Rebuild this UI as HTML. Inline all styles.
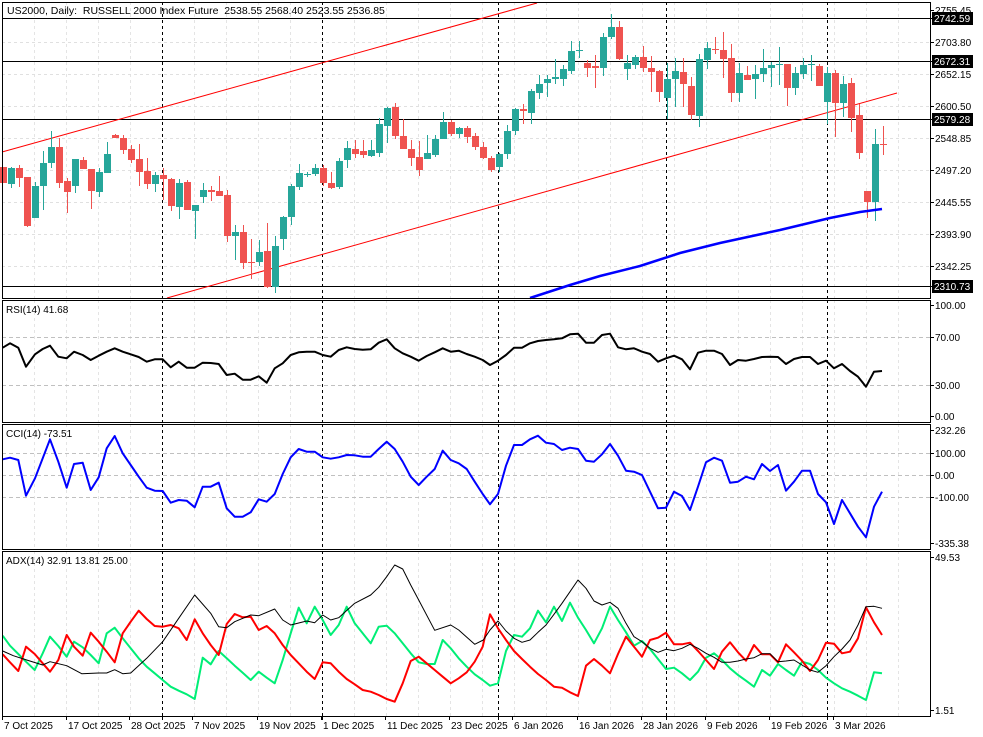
<!DOCTYPE html>
<html><head><meta charset="utf-8"><style>
html,body{margin:0;padding:0;background:#fff;}
svg{display:block;font-family:"Liberation Sans",sans-serif;}
</style></head><body>
<svg id="s" width="983" height="737" viewBox="0 0 983 737" xmlns="http://www.w3.org/2000/svg">
<rect width="983" height="737" fill="#fff"/>
<g id="g"></g>
<text x="7" y="14" font-size="10.5" xml:space="preserve">US2000, Daily:  RUSSELL 2000 Index Future  2538.55 2568.40 2523.55 2536.85</text>
<text x="6" y="313" font-size="10">RSI(14) 41.68</text>
<text x="6" y="437" font-size="10">CCI(14) -73.51</text>
<text x="6" y="564" font-size="10">ADX(14) 32.91 13.81 25.00</text>
</svg>
<script>
var g=document.getElementById('g');var NS='http://www.w3.org/2000/svg';
function el(t,a,txt){var e=document.createElementNS(NS,t);for(var k in a)e.setAttribute(k,a[k]);if(txt!==undefined)e.textContent=txt;g.appendChild(e);return e;}
function line(x1,y1,x2,y2,c,w,d){var a={x1:x1,y1:y1,x2:x2,y2:y2,stroke:c,'stroke-width':w||1};if(d)a['stroke-dasharray']=d;el('line',a);}
var R=930;
var panels=[[2,298],[300,422],[424,549],[551,716]];
for(var x=34;x<R;x+=32){panels.forEach(function(p){line(x+.5,p[0],x+.5,p[1],'#e4e4e4',1,'3,3');});}
[42,74,106,138,170,202,234,266].forEach(function(y){line(2,y+.5,R,y+.5,'#e0e0e0',1,'3,3');});
[337,385].forEach(function(y){line(2,y+.5,R,y+.5,'#c0c0c0',1,'4,3');});
[453,475,497].forEach(function(y){line(2,y+.5,R,y+.5,'#c0c0c0',1,'4,3');});
[162,322,498,666,827].forEach(function(x){panels.forEach(function(p){line(x+.5,p[0],x+.5,p[1],'#000',1,'3,3');});line(x+.5,716,x+.5,720,'#000',1);});
[18,61,119,286].forEach(function(y){line(2,y+.5,R,y+.5,'#000',1);});
line(2,152,537,3,'#f00',1);line(167,298,897,93,'#f00',1);
var C=[[167,183,167,183],[184,168,167,188],[168,178,165,187],[177,226,177,227],[218,186,182,218],[186,163,151,210],[163,147,131,168],[147,183,138,188],[181,192,178,213],[186,159,159,193],[160,169,157,169],[169,191,169,209],[192,172,168,197],[173,154,142,173],[135,138,134,138],[138,150,135,154],[149,160,145,163],[159,172,144,186],[171,184,158,189],[184,175,172,192],[175,179,168,200],[179,206,178,211],[207,183,179,219],[182,210,180,210],[211,205,205,239],[197,190,183,203],[190,192,186,201],[191,196,176,196],[195,236,190,242],[236,232,225,260],[232,263,225,269],[262,263,239,279],[262,252,240,266],[251,287,223,288],[287,246,236,293],[239,217,216,250],[217,186,184,225],[187,173,164,190],[174,174,172,177],[174,168,164,176],[168,183,165,186],[183,188,172,189],[187,161,158,189],[160,148,141,168],[149,154,140,158],[151,155,140,158],[156,150,140,157],[153,124,118,157],[126,108,107,143],[107,136,103,139],[136,149,119,149],[149,158,140,166],[157,170,141,176],[159,153,135,159],[155,139,135,157],[139,122,112,139],[122,134,120,136],[134,128,127,138],[128,137,126,143],[136,147,133,150],
[147,158,142,159],[158,170,156,172],[167,154,153,172],[154,131,125,159],[131,109,108,135],[109,111,104,124],[113,91,89,124],[93,84,75,99],[83,79,75,97],[79,77,59,84],[79,69,65,86],[71,51,41,74],[51,50,41,58],[63,68,60,77],[66,68,55,88],[68,37,33,76],[37,27,14,39],[27,59,21,60],[69,63,55,80],[65,57,55,69],[57,68,46,72],[68,72,56,92],[71,92,70,102],[98,79,63,119],[79,71,58,107],[72,84,58,107],[86,115,77,120],[116,59,54,127],[60,48,42,69],[49,50,37,54],[50,59,32,78],[58,93,44,102],[93,73,63,102],[75,80,66,80],[79,74,65,99],[74,68,49,82],[68,65,62,87],[65,64,47,85],[64,88,64,106],[88,73,67,95],[74,65,58,79],[64,64,55,81],[66,86,64,86],[102,73,67,124],[73,103,70,137],[103,84,76,117],[83,118,78,132],[115,153,104,159],[191,202,191,218],[202,144,129,221],[144,145,126,155]];
C.forEach(function(c,i){var x=Math.round(2.7+8*i);var col=(c[1]<c[0])?'#26a69a':(c[1]>c[0]?'#ef5350':(i==110||i==89||i==31?'#ef5350':'#26a69a'));
line(x+.5,c[2],x+.5,c[3],col,1);var t=Math.min(c[0],c[1]),h=Math.max(1,Math.abs(c[0]-c[1]));el('rect',{x:x-3,y:t,width:7,height:h,fill:col});});
el('polyline',{points:'530,298 570,285 600,276 640,266 680,253 720,243 780,230 830,218 860,212 882,209',fill:'none',stroke:'#00f','stroke-width':2.5});
function poly(arr,ox,oy,col,w){var p=[];for(var i=0;i<arr.length;i+=2)p.push((arr[i]/3+ox).toFixed(1)+','+(arr[i+1]/3+oy).toFixed(1));el('polyline',{points:p.join(' '),fill:'none',stroke:col,'stroke-width':w,'stroke-linejoin':'round'});}
var r1=[8,158,30,145,55,158,78,215,105,178,128,162,150,152,175,185,200,190,222,170,248,180,272,195,296,182,320,170,344,160,368,170,392,178,416,186,440,200,464,193,488,193,512,217,536,200,560,218,584,218,608,203,632,204,656,207,680,240,704,236,728,254,752,254,776,244,800,263,824,220,848,205,872,180,896,172,920,170,944,170,968,180,992,185,1016,165,1040,157,1064,162,1088,164,1112,163,1136,143,1160,133,1184,160,1208,175,1232,185,1256,197,1280,183,1304,172,1328,160,1352,170,1376,167,1400,177,1424,185,1448,195,1470,210];
var r2=[1470,210,1494,197,1518,180,1542,158,1566,158,1590,145,1614,138,1638,135,1662,133,1686,130,1710,118,1734,116,1758,143,1782,143,1806,120,1830,116,1854,157,1878,163,1902,160,1926,170,1950,177,1974,200,1998,190,2022,182,2046,193,2070,223,2094,173,2118,167,2142,167,2166,177,2190,210,2214,195,2238,197,2262,192,2286,186,2310,185,2334,186,2358,207,2382,192,2406,186,2430,186,2454,207,2478,197,2502,220,2526,207,2550,228,2574,245,2598,275,2622,230,2646,228];
poly(r1.concat(r2.slice(2)),0,295,'#000',2);
var c1=[8,493,30,488,55,495,78,602,105,550,128,490,150,433,175,500,200,578,222,507,248,503,272,585,296,547,320,460,344,423,368,475,392,510,416,545,440,578,464,587,488,588,512,623,536,615,560,617,584,637,608,575,632,575,656,563,680,640,704,665,728,665,752,652,776,613,800,620,824,597,848,537,872,487,896,462,920,470,944,470,968,487,992,491,1016,487,1040,480,1064,481,1088,485,1112,485,1136,462,1160,440,1184,462,1208,500,1232,545,1256,570,1280,545,1304,522,1328,467,1352,495,1376,505,1400,522,1424,560,1448,597,1470,628];
var c2=[24,597,48,512,72,450,96,450,120,433,144,422,168,443,192,447,216,465,240,458,264,462,288,497,312,500,336,478,360,447,384,482,408,527,432,530,456,540,480,590,504,640,528,638,552,590,576,603,600,645,624,575,648,502,672,488,696,497,720,563,744,560,768,545,792,553,816,507,840,528,864,510,888,587,912,560,936,527,960,527,984,597,1008,622,1032,687,1056,615,1080,655,1104,695,1128,727,1152,635,1176,590];
function sh(a){return a.map(function(v,i){return i%2==0?v+1470:v;});}
poly(c1.concat(sh(c2)),0,295,'#00f',2);
var b1=[8,318,40,332,80,345,128,360,150,350,200,362,245,386,296,384,320,384,344,374,368,386,392,384,440,340,488,290,536,220,584,150,632,205,656,245,680,248,704,230,752,210,776,212,824,192,848,225,872,240,920,228,944,233,968,210,992,225,1016,218,1064,175,1112,150,1136,127,1160,95,1184,60,1208,72,1232,120,1256,165,1304,256,1352,240,1376,255,1424,298,1450,285,1470,255];
var b2=[24,228,48,258,72,280,96,292,120,285,144,262,168,240,192,208,216,175,240,140,264,105,288,130,312,168,336,180,360,172,384,190,408,235,432,275,456,290,480,310,504,322,528,313,552,317,576,310,600,298,624,310,648,325,672,337,696,352,720,352,744,348,768,342,792,338,816,326,840,326,864,350,888,348,912,345,936,360,960,375,984,382,1008,362,1032,335,1056,312,1080,285,1104,240,1128,185,1152,184,1176,190];
var gr1=[8,272,30,302,55,327,78,350,104,375,128,325,150,275,175,303,200,335,222,290,248,307,272,330,296,355,320,265,344,248,368,280,392,310,416,340,440,365,464,385,488,405,512,425,536,437,560,448,584,462,608,338,632,358,656,318,680,340,704,362,728,383,752,405,776,380,800,398,824,415,848,345,872,265,896,188,920,235,944,185,968,225,992,270,1016,240,1040,185,1064,235,1088,265,1112,295,1136,245,1160,242,1184,265,1208,295,1232,325,1256,352,1280,357,1304,357,1328,285,1352,310,1376,340,1400,365,1424,388,1448,405,1470,422];
var gr2=[24,415,48,318,72,270,96,275,120,250,144,197,168,232,192,185,216,228,240,173,264,218,288,255,312,295,336,250,360,185,384,225,408,262,432,302,456,288,480,312,504,342,528,372,552,368,576,385,600,405,624,380,648,338,672,325,696,345,720,370,744,390,768,407,792,425,816,375,840,392,864,357,888,375,912,392,936,350,960,357,984,375,1008,398,1032,415,1056,430,1080,440,1104,452,1128,465,1152,382,1176,385];
var rd1=[8,328,30,352,55,378,78,305,104,327,128,355,150,380,175,345,200,270,222,305,248,332,272,263,296,290,320,320,344,352,368,265,392,230,416,197,440,222,464,243,488,245,512,240,536,250,560,285,584,223,608,265,632,300,656,330,680,237,704,207,728,217,752,215,776,255,800,243,824,265,848,300,872,330,896,355,920,380,944,402,968,352,992,355,1016,380,1040,402,1064,418,1088,435,1112,440,1136,450,1160,462,1184,470,1208,415,1232,348,1256,335,1280,355,1304,375,1328,395,1352,415,1376,400,1400,382,1424,350,1448,305,1470,208];
var rd2=[24,250,48,285,72,318,96,342,120,365,144,387,168,405,192,425,216,428,240,442,264,453,288,362,312,342,336,362,360,385,384,327,408,275,432,305,456,335,480,285,504,278,528,263,552,298,576,298,600,293,624,318,648,345,672,372,696,320,720,292,744,322,768,347,792,300,816,328,840,328,864,352,888,298,912,322,936,347,960,378,984,345,1008,293,1032,296,1056,325,1080,320,1104,280,1128,187,1152,232,1176,270];
poly(gr1.concat(sh(gr2)),0,545,'#00ee76',2);
poly(rd1.concat(sh(rd2)),0,545,'#f00',2);
poly(b1.concat(sh(b2)),0,545,'#000',1);
panels.forEach(function(p){el('rect',{x:2.5,y:p[0]+.5,width:R-2,height:p[1]-p[0],fill:'none',stroke:'#000','stroke-width':1});});
function lab(y,t,box){line(R,y+.5,R+4,y+.5,'#000',1);if(box){el('rect',{x:932,y:y-6,width:41,height:13,fill:'#000'});el('text',{x:934,y:y+4,'font-size':10,fill:'#fff'},t);}else el('text',{x:935,y:y+4,'font-size':10,fill:'#000'},t);}
lab(10,'2755.45');lab(42,'2703.80');lab(74,'2652.15');lab(106,'2600.50');lab(138,'2548.85');lab(170,'2497.20');lab(202,'2445.55');lab(234,'2393.90');lab(266,'2342.25');
lab(18,'2742.59',1);lab(61,'2672.31',1);lab(119,'2579.28',1);lab(286,'2310.73',1);
lab(305,'100.00');lab(337,'70.00');lab(385,'30.00');lab(416,'0.00');
lab(430,'232.26');lab(453,'100.00');lab(475,'0.00');lab(497,'-100.00');lab(543,'-335.38');
lab(557,'49.53');lab(710,'1.51');
[[3,'7 Oct 2025'],[67,'17 Oct 2025'],[130,'28 Oct 2025'],[193,'7 Nov 2025'],[258,'19 Nov 2025'],[322,'1 Dec 2025'],[386,'11 Dec 2025'],[450,'23 Dec 2025'],[513,'6 Jan 2026'],[578,'16 Jan 2026'],[642,'28 Jan 2026'],[706,'9 Feb 2026'],[770,'19 Feb 2026'],[834,'3 Mar 2026']].forEach(function(d){line(d[0]-.5,716,d[0]-.5,720,'#000',1);el('text',{x:d[0]+1,y:729,'font-size':10},d[1]);});
</script>
</body></html>
